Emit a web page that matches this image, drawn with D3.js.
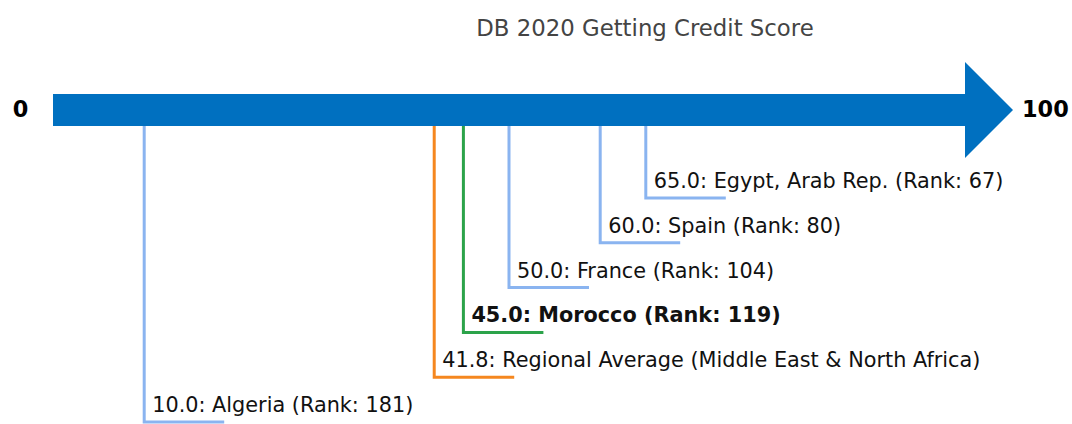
<!DOCTYPE html>
<html>
<head>
<meta charset="utf-8">
<script src="https://cdn.jsdelivr.net/npm/d3@7"></script>
<style>
  body { margin: 0; background: #fff; }
  text { font-family: "DejaVu Sans", sans-serif; }
</style>
</head>
<body>
<script>
let w = 1072;
let h = 424;

// economies, scores, ranks (sorted by score, highest first)
let names = ["Egypt, Arab Rep.", "Spain", "France", "Morocco", "Regional Average (Middle East & North Africa)", "Algeria"];
let scores = [65.0, 60.0, 50.0, 45.0, 41.8, 10.0];
let ranks = [67, 80, 104, 119, null, 181];
let kinds = ["peer", "peer", "peer", "focus", "region", "peer"];

let colors = { peer: "#8ab4f0", focus: "#2ca34a", region: "#f5871f" };

let svg = d3.select("body")
    .append("svg")
    .attr("width", w)
    .attr("height", h);

let xScale = d3.scaleLinear()
    .domain([0, 100])
    .range([53, 965]);

// drop levels for the leader lines
let yScale = d3.scalePoint()
    .domain(d3.range(names.length))
    .range([198, 422]);

let barTop = 94, barBottom = 126, barMid = 110;

//Title
svg.append("text")
    .attr("x", 645)
    .attr("y", 36)
    .attr("text-anchor", "middle")
    .style("font-size", "22.8px")
    .style("fill", "#444")
    .text("DB 2020 Getting Credit Score");

//Arrow body
svg.append("rect")
    .attr("x", xScale(0))
    .attr("y", barTop)
    .attr("width", xScale(100) - xScale(0))
    .attr("height", barBottom - barTop)
    .attr("fill", "#0070c0");

//Arrow head
svg.append("path")
    .attr("d", "M" + xScale(100) + ",62 L" + (xScale(100) + 48) + "," + barMid + " L" + xScale(100) + ",158 Z")
    .attr("fill", "#0070c0");

//End labels
svg.append("text")
    .attr("x", 20.5)
    .attr("y", barMid + 7)
    .attr("text-anchor", "middle")
    .style("font-size", "22.4px")
    .style("font-weight", "bold")
    .text("0");

svg.append("text")
    .attr("x", 1022)
    .attr("y", barMid + 7)
    .style("font-size", "22.4px")
    .style("font-weight", "bold")
    .text("100");

let rows = names.map(function(n, i) {
    return { name: n, score: scores[i], rank: ranks[i], kind: kinds[i], i: i };
});

let g = svg.selectAll("g.mark")
    .data(rows)
    .enter()
    .append("g")
    .attr("class", "mark");

g.append("path")
    .attr("d", function(d) {
        let x = xScale(d.score), y = yScale(d.i);
        return "M" + x + "," + barBottom + " L" + x + "," + y + " L" + (x + 80) + "," + y;
    })
    .attr("fill", "none")
    .attr("stroke", function(d) { return colors[d.kind]; })
    .attr("stroke-width", 3);

g.append("text")
    .attr("x", function(d) { return xScale(d.score) + 8; })
    .attr("y", function(d) { return yScale(d.i) - 10; })
    .style("font-size", "20.8px")
    .style("font-weight", function(d) { return d.kind === "focus" ? "bold" : "normal"; })
    .style("fill", "#111")
    .text(function(d) {
        let s = d3.format(".1f")(d.score) + ": " + d.name;
        if (d.rank !== null) s += " (Rank: " + d.rank + ")";
        return s;
    });
</script>
</body>
</html>
